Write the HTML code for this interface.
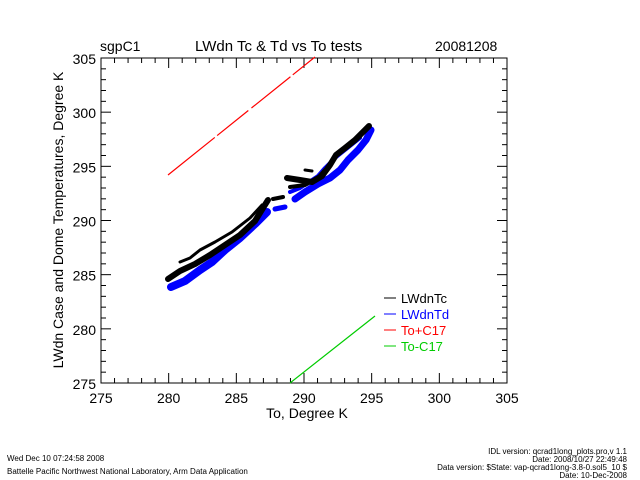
<!DOCTYPE html>
<html><head><meta charset="utf-8"><style>
html,body{margin:0;padding:0;background:#fff}
svg{display:block}
text{font-family:"Liberation Sans",sans-serif}
</style></head><body>
<svg id="s" width="640" height="480" viewBox="0 0 640 480" xmlns="http://www.w3.org/2000/svg">
<rect width="640" height="480" fill="#fff"/>
<text x="100" y="51" font-size="14">sgpC1</text>
<text x="195" y="51" font-size="15">LWdn Tc &amp; Td vs To tests</text>
<text x="435" y="51" font-size="14">20081208</text>
<rect x="101" y="58" width="406" height="325" fill="none" stroke="#000" stroke-width="1"/>
<g id="ticks" stroke="#000" stroke-width="1"></g>
<g font-size="14" text-anchor="middle" id="xl"></g>
<g font-size="14" text-anchor="end" id="yl"></g>
<text x="307" y="418" font-size="14" text-anchor="middle">To, Degree K</text>
<text transform="translate(63,220) rotate(-90)" font-size="14" text-anchor="middle">LWdn Case and Dome Temperatures, Degree K</text>
<line x1="168" y1="175" x2="315" y2="57" stroke="#f00" stroke-width="1.2" stroke-dasharray="60 3 40 4 50 3"/>
<line x1="290" y1="383" x2="375" y2="316" stroke="#0c0" stroke-width="1.2"/>
<g fill="none" stroke="#00f" stroke-linejoin="round" stroke-linecap="round">
<polyline stroke-width="8" points="171,287 185,281 200,270 212,262 225,250 240,238 255,224 267,212"/>
<polyline stroke-width="5" points="275,209 285,207"/>
<polyline stroke-width="7" points="295,199 305,192 318,184 330,178 340,170 348,160 358,150 366,140 371,130"/>
<polyline stroke-width="4" points="290,192 300,188 318,176 325,168 335,158 345,150 360,138"/>
</g>
<g fill="none" stroke="#000" stroke-linejoin="round" stroke-linecap="round">
<polyline stroke-width="6" points="168,279 180,271 195,264 210,255 225,245 240,235 255,221 263,208 268,200"/>
<polyline stroke-width="3" points="180,262 190,258 200,250 215,242 232,232 250,218 262,205"/>
<polyline stroke-width="4" points="273,199 283,197"/>
<polyline stroke-width="6" points="287,178 300,180 312,182 322,176 330,165 336,155 345,148 355,140 363,132 369,126"/>
<polyline stroke-width="4" points="290,187 305,185 318,178 325,170"/>
<polyline stroke-width="3" points="305,170 312,171"/>
</g>
<g font-size="13">
<line x1="384" y1="298" x2="396" y2="298" stroke="#000"/><text x="401" y="303" fill="#000">LWdnTc</text>
<line x1="384" y1="314" x2="396" y2="314" stroke="#00f"/><text x="401" y="319" fill="#00f">LWdnTd</text>
<line x1="384" y1="330" x2="396" y2="330" stroke="#f00"/><text x="401" y="335" fill="#f00">To+C17</text>
<line x1="384" y1="346" x2="396" y2="346" stroke="#0c0"/><text x="401" y="351" fill="#0c0">To-C17</text>
</g>
<text x="7" y="461" font-size="8">Wed Dec 10 07:24:58 2008</text>
<text x="7" y="474" font-size="8">Battelle Pacific Northwest National Laboratory, Arm Data Application</text>
<g font-size="8" text-anchor="end">
<text x="627" y="454">IDL version: qcrad1long_plots.pro,v 1.1</text>
<text x="627" y="462">Date: 2008/10/27 22:49:48</text>
<text x="627" y="470">Data version: $State: vap-qcrad1long-3.8-0.sol5_10 $</text>
<text x="627" y="478">Date: 10-Dec-2008</text>
</g>
</svg>
<script>
var NS="http://www.w3.org/2000/svg",t=document.getElementById('ticks');
function L(a,b,c,d){var l=document.createElementNS(NS,'line');l.setAttribute('x1',a);l.setAttribute('y1',b);l.setAttribute('x2',c);l.setAttribute('y2',d);t.appendChild(l);}
function T(g,x,y,s){var e=document.createElementNS(NS,'text');e.setAttribute('x',x);e.setAttribute('y',y);e.textContent=s;document.getElementById(g).appendChild(e);}
for(var v=275;v<=305;v++){var maj=(v%5==0),len=maj?10:5;
var x=101+(v-275)*406/30;L(x,383,x,383-len);L(x,58,x,58+len);
var y=383-(v-275)*325/30;L(101,y,101+len,y);L(507,y,507-len,y);
if(maj){T('xl',x,403,v);T('yl',96,y+6,v);}}
</script>
</body></html>
